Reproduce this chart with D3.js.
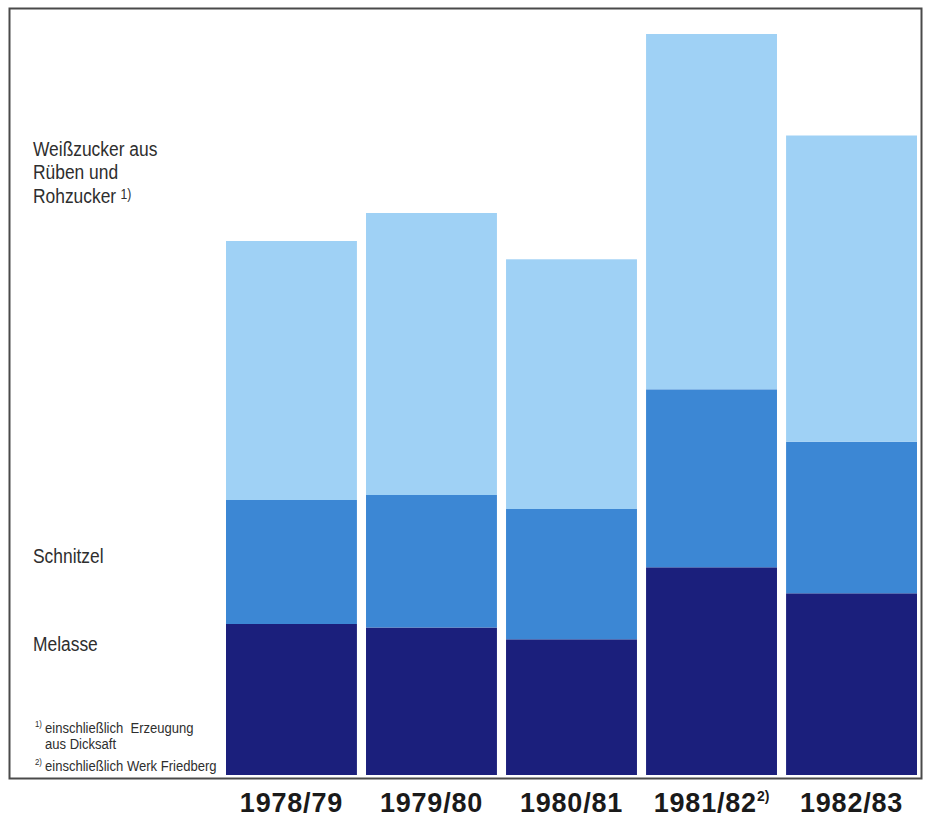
<!DOCTYPE html>
<html>
<head>
<meta charset="utf-8">
<script src="https://cdn.jsdelivr.net/npm/d3@7"></script>
<style>
  html, body { margin: 0; padding: 0; background: #fff; }
  svg { display: block; }
  .lbl { font-family: "Liberation Sans", Arial, sans-serif; fill: #2e2e2e; }
  .yr { font-family: "Liberation Sans", Arial, sans-serif; font-weight: bold; fill: #1a1a1a; }
</style>
</head>
<body>
<svg id="chart" width="927" height="818"></svg>
<script>
// Campaign years
const years = ["1978/79", "1979/80", "1980/81", "1981/82", "1982/83"];
const yearNotes = ["", "", "", "2)", ""];

// Production per campaign (relative units), stacked bottom to top
const melasse     = [151, 147.5, 135.7, 207.7, 181.7];
const schnitzel   = [124, 132.5, 130.3, 178.0, 151.6];
const weisszucker = [259, 282.0, 249.7, 355.3, 306.2];

const seriesKeys   = ["melasse", "schnitzel", "weisszucker"];
const seriesColors = ["#1b1f7c", "#3c87d4", "#9fd1f5"];

const rows = years.map((y, i) => ({
  year: y,
  melasse: melasse[i],
  schnitzel: schnitzel[i],
  weisszucker: weisszucker[i]
}));

const svg = d3.select("#chart");

// condensed text: positioned group squeezed horizontally
const COND = 0.87;
function condText(px, py) {
  return svg.append("g")
    .attr("transform", `translate(${px},${py}) scale(${COND},1)`)
    .append("text")
    .attr("class", "lbl");
}

// outer frame
svg.append("rect")
  .attr("x", 9.5).attr("y", 8.5)
  .attr("width", 912).attr("height", 770)
  .attr("fill", "none")
  .attr("stroke", "#4a4a4a")
  .attr("stroke-width", 2);

const x = d3.scaleBand()
  .domain(years)
  .range([226, 917])
  .paddingInner(0.065)
  .paddingOuter(0);

const y = d3.scaleLinear()
  .domain([0, 741])
  .range([775, 34]);

const stack = d3.stack().keys(seriesKeys);
const layers = stack(rows);

svg.append("g")
  .selectAll("g")
  .data(layers)
  .join("g")
    .attr("fill", (d, i) => seriesColors[i])
  .selectAll("rect")
  .data(d => d)
  .join("rect")
    .attr("x", d => x(d.data.year))
    .attr("width", x.bandwidth())
    .attr("y", d => y(d[1]))
    .attr("height", d => y(d[0]) - y(d[1]));

// category labels below the bars
years.forEach((yr, i) => {
  const t = svg.append("text")
    .attr("class", "yr")
    .attr("x", x(yr) + x.bandwidth() / 2)
    .attr("y", 812)
    .attr("text-anchor", "middle")
    .attr("font-size", 27)
    .attr("letter-spacing", 0.8);
  t.append("tspan").text(yr);
  if (yearNotes[i]) {
    t.append("tspan")
      .attr("dy", -11)
      .attr("font-size", 14)
      .attr("letter-spacing", 0)
      .text(yearNotes[i]);
  }
});

// series labels on the left
const legend = [
  { lines: ["Weißzucker aus", "Rüben und", "Rohzucker"], note: "1)", y: 156 },
  { lines: ["Schnitzel"], y: 563 },
  { lines: ["Melasse"], y: 651 }
];
legend.forEach(item => {
  const t = condText(33, item.y).attr("font-size", 20);
  item.lines.forEach((ln, j) => {
    t.append("tspan")
      .attr("x", 0)
      .attr("dy", j === 0 ? 0 : 23.5)
      .text(ln);
    if (item.note && j === item.lines.length - 1) {
      t.append("tspan")
        .attr("dx", 5)
        .attr("dy", -4)
        .attr("font-size", 14)
        .text(item.note);
    }
  });
});

// footnotes
const notes = [
  { mark: "1)", text: "einschließlich  Erzeugung", y: 733 },
  { mark: "",   text: "aus Dicksaft", y: 749 },
  { mark: "2)", text: "einschließlich Werk Friedberg", y: 771 }
];
notes.forEach(n => {
  if (n.mark) {
    condText(35, n.y - 6).attr("font-size", 9).text(n.mark);
  }
  condText(45, n.y)
    .attr("font-size", 15)
    .attr("xml:space", "preserve")
    .text(n.text);
});
</script>
</body>
</html>
